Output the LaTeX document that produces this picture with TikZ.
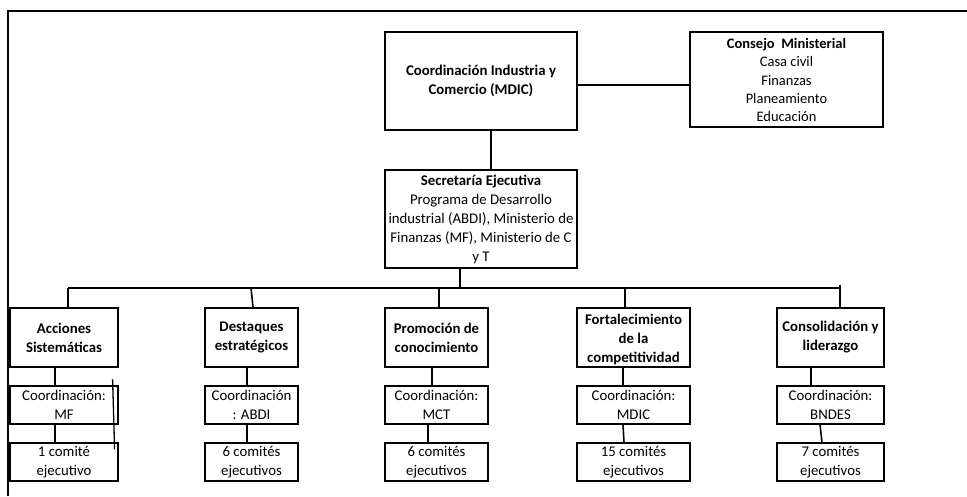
\documentclass[tikz,border=0pt]{standalone}
\usepackage{fontspec}
\setmainfont{Carlito}
\newcommand{\bxfont}{\fontsize{14.8}{19}\selectfont}
\newcommand{\consfont}{\fontsize{14.5}{18.4}\selectfont}
\begin{document}
\begin{tikzpicture}[x=1pt,y=-1pt,
  thickbox/.style={draw, line width=2pt, rectangle, inner sep=0pt, align=center, font=\bxfont\bfseries},
  thinbox/.style={draw, line width=1.2pt, rectangle, inner sep=0pt, align=center, font=\bxfont, minimum height=38pt},
  lvl/.style={thickbox, minimum height=59pt},
  plain/.style={inner sep=0pt, align=center, font=\bxfont},
  conn/.style={line width=1.6pt}
]
\useasboundingbox (0,0) rectangle (967,496);
% frame
\draw[line width=2pt] (8,496) -- (8,11) -- (967,11);

% top boxes
\node[thickbox, minimum width=192pt, minimum height=98pt] (coord) at (481,81)
  {Coordinación Industria y\\Comercio (MDIC)};
\node[thickbox, minimum width=193pt, minimum height=95pt] (cons) at (786.5,79.5) {};
\node[plain, font=\consfont] (consT) at (786.5,80)
  {\textbf{Consejo~~Ministerial}\\Casa civil\\Finanzas\\Planeamiento\\Educación};
\node[thickbox, font=\bxfont, minimum width=192pt, minimum height=98pt] (sec) at (481,219)
  {\textbf{Secretaría Ejecutiva}\\Programa de Desarrollo\\industrial (ABDI), Ministerio de\\Finanzas (MF), Ministerio de C\\y T};

% level boxes
\node[lvl, minimum width=108pt] (A) at (64,337.5) {Acciones\\Sistemáticas};
\node[lvl, minimum width=93pt] (D) at (251.5,337.5) {Destaques\\estratégicos};
\node[lvl, minimum width=103pt] (P) at (436.5,337.5) {Promoción de\\conocimiento};
\node[lvl, minimum width=113pt] (F) at (633.5,337.5) {};
\node[plain, font=\bxfont\bfseries] (FT) at (633.5,339.5) {Fortalecimiento\\de la\\competitividad};
\node[lvl, minimum width=107pt] (C) at (830.5,337.5) {Consolidación y\\liderazgo};

% coordination boxes
\node[thinbox, minimum width=108pt] (Ac) at (64,405) {Coordinación:\\MF};
\node[thinbox, minimum width=93pt] (Dc) at (251.5,405) {Coordinación\\: ABDI};
\node[thinbox, minimum width=103pt] (Pc) at (436.5,405) {Coordinación:\\MCT};
\node[thinbox, minimum width=113pt] (Fc) at (633.5,405) {Coordinación:\\MDIC};
\node[thinbox, minimum width=107pt] (Cc) at (830.5,405) {Coordinación:\\BNDES};

% committee boxes
\node[thinbox, minimum width=108pt] (Am) at (64,462) {1 comité\\ejecutivo};
\node[thinbox, minimum width=93pt] (Dm) at (251.5,462) {6 comités\\ejecutivos};
\node[thinbox, minimum width=103pt] (Pm) at (436.5,462) {6 comités\\ejecutivos};
\node[thinbox, minimum width=113pt] (Fm) at (633.5,462) {15 comités\\ejecutivos};
\node[thinbox, minimum width=107pt] (Cm) at (830.5,462) {7 comités\\ejecutivos};

% bus coordinates
\coordinate (busL) at (68,288);
\coordinate (busM) at (460,288);
\coordinate (busR) at (840,288);

% connectors top
\draw[conn] ([yshift=-4pt]coord.east) -- ([yshift=-5.5pt]cons.west);
\draw[conn] ([xshift=10pt]coord.south) -- ([xshift=10pt]sec.north);
\draw[conn] ([xshift=-21pt]sec.south) -- (busM);
\draw[conn] (busL) -- (busR);

% drops
\draw[conn] (busL) -- ([xshift=4pt]A.north);
\draw[conn] ([xshift=-0.5pt]busL -| D.north) -- ([xshift=1.5pt]D.north);
\draw[conn] ([xshift=2.5pt]busL -| P.north) -- ([xshift=2.5pt]P.north);
\draw[conn] ([xshift=-8.5pt]busL -| F.north) -- ([xshift=-8.5pt]F.north);
\draw[conn] ([yshift=3pt]busR) -- ([xshift=9.5pt]C.north);

% level -> coordination
\draw[conn] ([xshift=-9pt]A.south) -- ([xshift=-9pt]Ac.north);
\draw[conn] ([xshift=-4.5pt]D.south) -- ([xshift=-4.5pt]Dc.north);
\draw[conn] ([xshift=-4.5pt]P.south) -- ([xshift=-4.5pt]Pc.north);
\draw[conn] ([xshift=-10.5pt]F.south) -- ([xshift=-10.5pt]Fc.north);
\draw[conn] ([xshift=-19.5pt]C.south) -- ([xshift=-19.5pt]Cc.north);

% coordination -> committee
\draw[conn] ([xshift=-9pt]Ac.south) -- ([xshift=-9pt]Am.north);
\draw[conn] ([xshift=-4.5pt]Dc.south) -- ([xshift=-4.5pt]Dm.north);
\draw[conn] ([xshift=-8.5pt]Pc.south) -- ([xshift=-8.5pt]Pm.north);
\draw[conn] ([xshift=-10.5pt]Fc.south) -- ([xshift=-9.5pt]Fm.north);
\draw[conn] ([xshift=-10.5pt]Cc.south) -- ([xshift=-8.5pt]Cm.north);

% stray line in first column
\draw[line width=1.3pt] ([xshift=-6pt,yshift=6pt]Ac.north east) -- ([xshift=-4pt,yshift=-7pt]Am.north east);
\end{tikzpicture}
\end{document}
